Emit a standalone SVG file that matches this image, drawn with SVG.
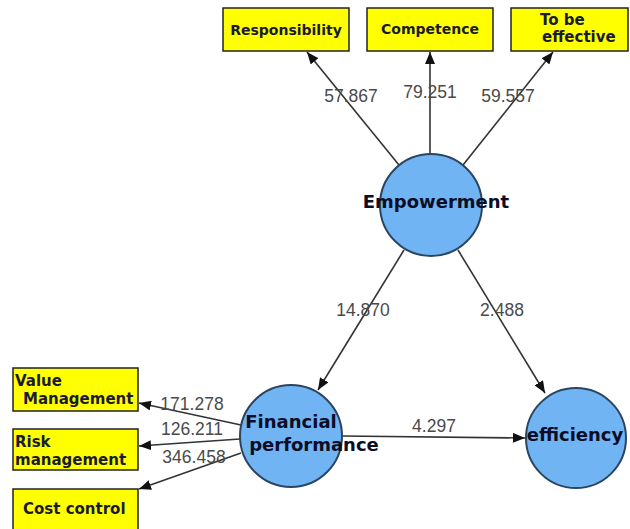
<svg xmlns="http://www.w3.org/2000/svg" width="630" height="529" viewBox="0 0 630 529">
<style>
.box{fill:#ffff00;stroke:#222;stroke-width:1.5}
.bt{font-family:"DejaVu Sans",Verdana,sans-serif;font-weight:bold;font-size:14px;fill:#1a1a33}
.bl{font-size:15px}
.lv{fill:#70b4f3;stroke:#2b4560;stroke-width:2}
.lt{font-family:"DejaVu Sans",Verdana,sans-serif;font-weight:bold;font-size:18px;fill:#0d0d26;text-anchor:middle}
.num{font-family:"Liberation Sans",Arial,sans-serif;font-size:17.5px;fill:#4a4a4a;text-anchor:middle}
.c{stroke:#333;stroke-width:1.6;fill:none;marker-end:url(#ah)}
</style>
<defs>
<marker id="ah" viewBox="0 0 12 10" refX="12" refY="5" markerWidth="12" markerHeight="10" markerUnits="userSpaceOnUse" orient="auto">
<path d="M0,0 L12,5 L0,10 z" fill="#111"/>
</marker>
</defs>
<rect width="630" height="529" fill="#ffffff"/>
<g id="connectors">
<line class="c" x1="399" y1="165" x2="307" y2="52"/>
<line class="c" x1="430" y1="154" x2="430" y2="52"/>
<line class="c" x1="463" y1="165" x2="553" y2="52"/>
<line class="c" x1="404" y1="250" x2="318" y2="390"/>
<line class="c" x1="458" y1="250" x2="545" y2="393"/>
<line class="c" x1="342" y1="436" x2="525" y2="438"/>
<line class="c" x1="241" y1="425" x2="139" y2="403"/>
<line class="c" x1="240" y1="439" x2="139" y2="446"/>
<line class="c" x1="241" y1="453" x2="139" y2="489"/>
<text class="num" x="351" y="102">57.867</text>
<text class="num" x="430" y="98">79.251</text>
<text class="num" x="508" y="102">59.557</text>
<text class="num" x="363" y="316">14.870</text>
<text class="num" x="502" y="316">2.488</text>
<text class="num" x="434" y="432">4.297</text>
<text class="num" x="192" y="410">171.278</text>
<text class="num" x="192" y="435">126.211</text>
<text class="num" x="194" y="463">346.458</text>
</g>
<g id="responsibility">
<rect class="box" x="223" y="8" width="126" height="43"/>
<text class="bt" x="286" y="35" text-anchor="middle">Responsibility</text>
</g>
<g id="competence">
<rect class="box" x="367" y="8" width="126" height="43"/>
<text class="bt" x="430" y="34" text-anchor="middle">Competence</text>
</g>
<g id="to-be-effective">
<rect class="box" x="511" y="8" width="117" height="43"/>
<text class="bt bl" x="540" y="25">To be</text>
<text class="bt bl" x="542" y="42">effective</text>
</g>
<g id="empowerment">
<circle class="lv" cx="431" cy="205" r="51"/>
<text class="lt" x="436" y="208">Empowerment</text>
</g>
<g id="financial-performance">
<circle class="lv" cx="291" cy="436" r="51"/>
<text class="lt" x="291" y="428">Financial</text>
<text class="lt" x="314" y="451">performance</text>
</g>
<g id="efficiency">
<circle class="lv" cx="576" cy="438" r="50"/>
<text class="lt" x="575" y="441">efficiency</text>
</g>
<g id="value-management">
<rect class="box" x="13" y="368" width="125" height="43"/>
<text class="bt bl" x="15" y="386">Value</text>
<text class="bt bl" x="23" y="404">Management</text>
</g>
<g id="risk-management">
<rect class="box" x="13" y="429" width="125" height="41"/>
<text class="bt bl" x="15" y="447">Risk</text>
<text class="bt bl" x="15" y="465">management</text>
</g>
<g id="cost-control">
<rect class="box" x="13" y="489" width="125" height="45"/>
<text class="bt bl" x="23" y="514">Cost control</text>
</g>
</svg>
